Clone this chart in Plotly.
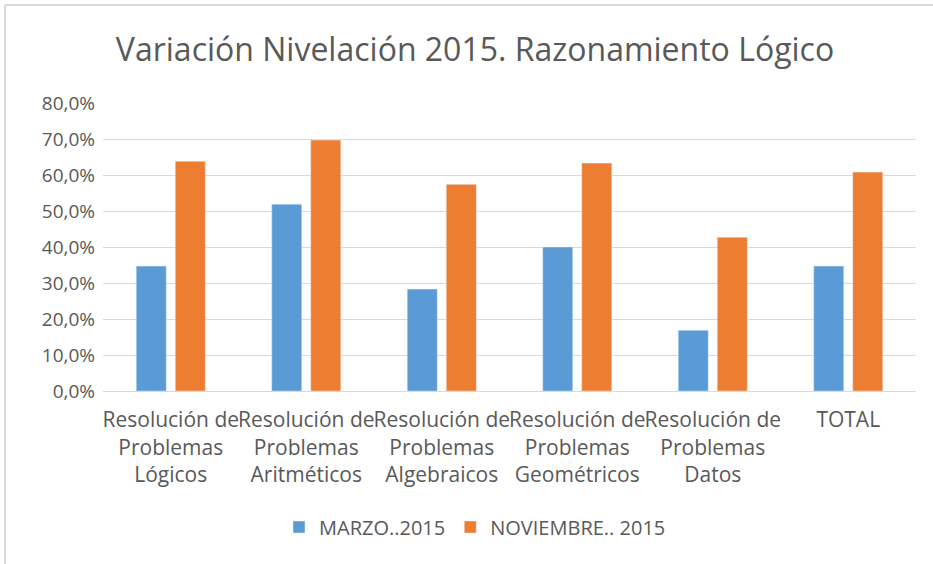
import plotly.graph_objects as go

categories = [
    "Resolución de<br>Problemas<br>Lógicos",
    "Resolución de<br>Problemas<br>Aritméticos",
    "Resolución de<br>Problemas<br>Algebraicos",
    "Resolución de<br>Problemas<br>Geométricos",
    "Resolución de<br>Problemas<br>Datos",
    "TOTAL",
]
marzo = [0.347, 0.519, 0.283, 0.400, 0.169, 0.347]
noviembre = [0.638, 0.697, 0.574, 0.633, 0.427, 0.608]
series_names = ["MARZO..2015", "NOVIEMBRE.. 2015"]
tick_vals = [0, 0.1, 0.2, 0.3, 0.4, 0.5, 0.6, 0.7, 0.8]
tick_text = ["0,0%", "10,0%", "20,0%", "30,0%", "40,0%", "50,0%", "60,0%", "70,0%", "80,0%"]

FONT = "'Open Sans', sans-serif"
GRAY = "#595959"

fig = go.Figure()
fig.add_trace(go.Bar(x=categories, y=marzo, name=series_names[0], marker_color="#5B9BD5"))
fig.add_trace(go.Bar(x=categories, y=noviembre, name=series_names[1], marker_color="#ED7D31"))

W, H = 933, 564
ml, mr, mt, mb = 103, 17, 103, 173
pw, ph = W - ml - mr, H - mt - mb

def px_x(x):
    return (x - ml) / pw

def px_y(y):
    return (H - mb - y) / ph

fig.update_layout(
    width=W, height=H,
    margin=dict(l=ml, r=mr, t=mt, b=mb, autoexpand=False),
    paper_bgcolor="white", plot_bgcolor="white",
    font=dict(family=FONT, color=GRAY, size=20),
    title=dict(text="Variación Nivelación 2015. Razonamiento Lógico",
               x=475 / W, xanchor="center", y=1 - 50 / H, yanchor="middle",
               font=dict(family=FONT, size=32, color=GRAY)),
    barmode="group", bargap=0.424, bargroupgap=0.23,
    xaxis=dict(showgrid=False, showline=True, linecolor="#d9d9d9", linewidth=1,
               ticks="", ticklabelstandoff=10,
               tickfont=dict(size=21, color=GRAY), tickangle=0),
    yaxis=dict(range=[0, 0.8], tickvals=tick_vals, ticktext=tick_text,
               showgrid=True, gridcolor="#d9d9d9", gridwidth=1, zeroline=False,
               showline=False, ticks="", ticklabelstandoff=7,
               tickfont=dict(size=19, color=GRAY)),
    legend=dict(orientation="h", x=475 / W, xanchor="center", xref="container",
                y=1 - 527 / H, yanchor="middle", yref="container",
                font=dict(size=20, color=GRAY), itemwidth=30, traceorder="normal"),
    showlegend=True,
    shapes=[
        dict(type="line", xref="paper", yref="paper", x0=px_x(5), x1=px_x(933),
             y0=px_y(5), y1=px_y(5), line=dict(color="#d9d9d9", width=2)),
        dict(type="line", xref="paper", yref="paper", x0=px_x(5), x1=px_x(5),
             y0=px_y(5), y1=px_y(564), line=dict(color="#d9d9d9", width=2)),
    ],
)

fig.write_html("out.html", config={"displayModeBar": False},
               post_script="document.body.style.margin='0';document.body.style.overflow='hidden';")
